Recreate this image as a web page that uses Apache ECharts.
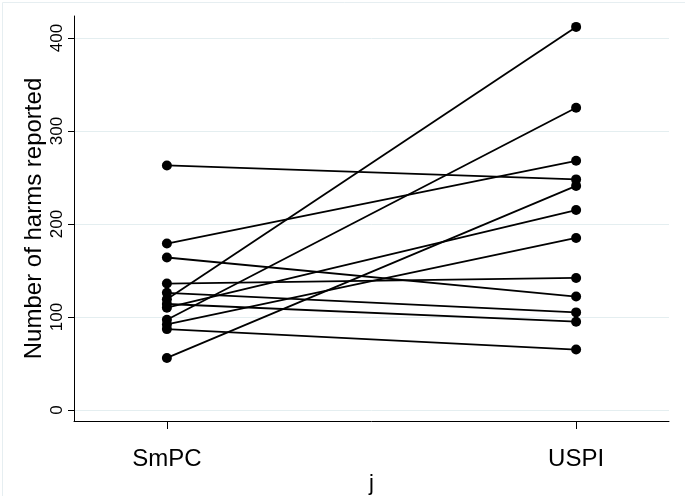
<!DOCTYPE html>
<html>
<head>
<meta charset="utf-8">
<script src="https://cdn.jsdelivr.net/npm/echarts@6/dist/echarts.min.js"></script>
<style>
html,body{margin:0;padding:0;background:#fff;}
#c{width:685px;height:496px;}
</style>
</head>
<body>
<div id="c"></div>
<script>
var categories = ['SmPC', 'USPI'];
var smpcValues = [263, 179, 164, 136, 126, 119, 114, 110, 97, 92, 87, 56];
var uspiValues = [248, 268, 122, 142, 105, 412, 95, 215, 325, 185, 65, 241];
var yTicks = [0, 100, 200, 300, 400];

var FONT = 'Liberation Sans, Arial, sans-serif';
var series = smpcValues.map(function (v, i) {
  return {
    type: 'line',
    data: [[1, v], [2, uspiValues[i]]],
    symbol: 'circle',
    symbolSize: 10,
    lineStyle: { color: '#000', width: 1.8 },
    itemStyle: { color: '#000' },
    silent: true,
    animation: false
  };
});

var chart = echarts.init(document.getElementById('c'), null, { renderer: 'canvas' });
chart.setOption({
  backgroundColor: '#fff',
  animation: false,
  graphic: [{
    type: 'rect', left: 0, top: 0,
    shape: { x: 0.5, y: 0.5, width: 684, height: 495 },
    style: { fill: 'none', stroke: '#e6eef1', lineWidth: 1 },
    silent: true
  }],
  grid: { left: 74, right: 16, top: 16, bottom: 75, containLabel: false, outerBoundsMode: 'none' },
  xAxis: {
    type: 'value',
    min: 0.773,
    max: 2.227,
    name: 'j',
    nameLocation: 'middle',
    nameGap: 52,
    nameMoveOverlap: false,
    nameTextStyle: { fontFamily: FONT, fontSize: 22, color: '#000' },
    axisLine: { show: true, onZero: false, lineStyle: { color: '#000', width: 1 } },
    axisTick: { show: true, customValues: [1, 2], length: 8, lineStyle: { color: '#000' } },
    axisLabel: {
      customValues: [1, 2],
      formatter: function (v) { return categories[Math.round(v) - 1] || ''; },
      fontFamily: FONT, fontSize: 24, color: '#000', margin: 26
    },
    splitLine: { show: false }
  },
  yAxis: {
    type: 'value',
    min: -11.8,
    max: 423.7,
    name: 'Number of harms reported',
    nameLocation: 'middle',
    nameGap: 28,
    nameMoveOverlap: false,
    nameTextStyle: { fontFamily: FONT, fontSize: 24, color: '#000' },
    axisLine: { show: true, onZero: false, lineStyle: { color: '#000', width: 1 } },
    axisTick: { show: true, customValues: yTicks, length: 6, lineStyle: { color: '#000' } },
    axisLabel: {
      customValues: yTicks,
      rotate: 90,
      fontFamily: FONT, fontSize: 17, color: '#000', margin: 8
    },
    splitLine: { show: true, lineStyle: { color: '#e4eef0', width: 1 } }
  },
  series: series
});
</script>
</body>
</html>
